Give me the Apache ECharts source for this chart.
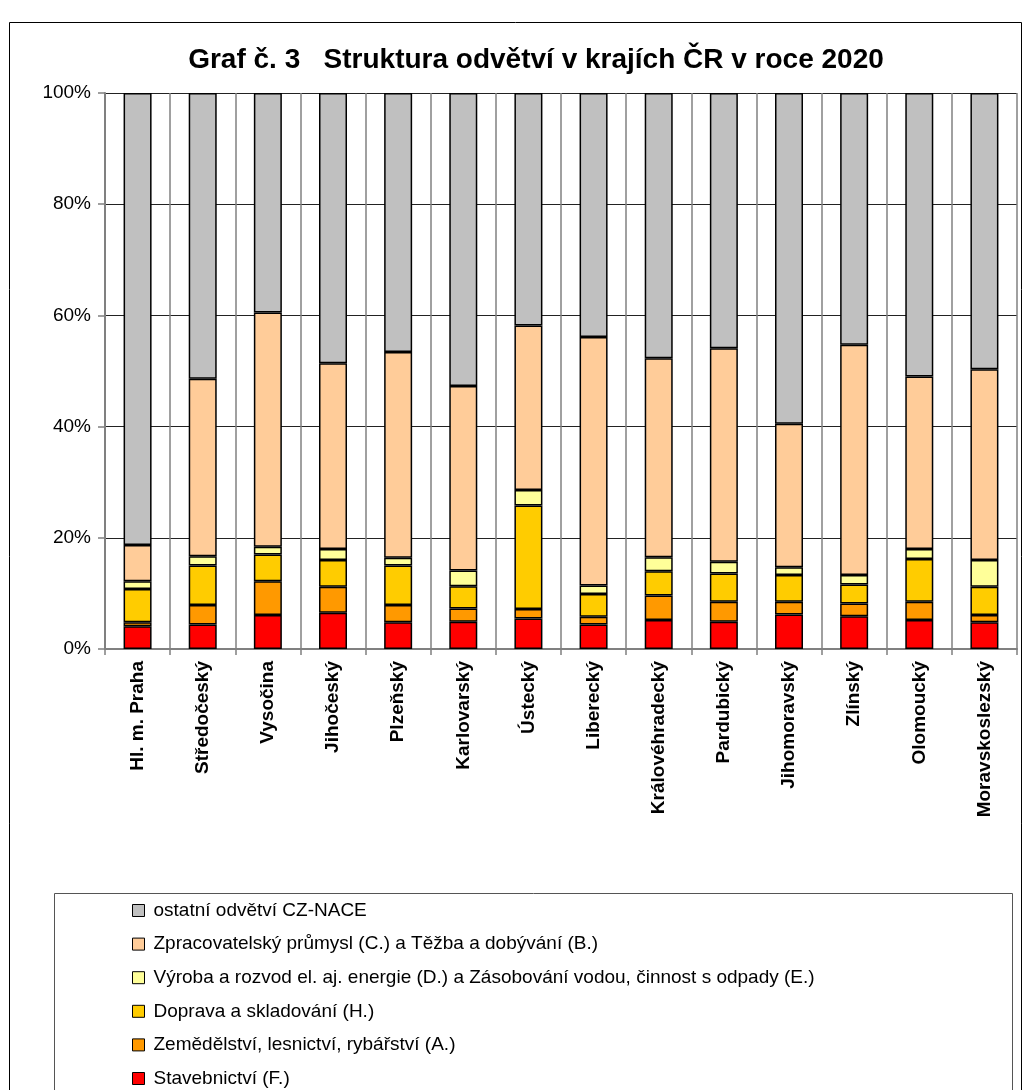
<!DOCTYPE html>
<html>
<head>
<meta charset="utf-8">
<script src="https://cdn.jsdelivr.net/npm/echarts@6/dist/echarts.min.js"></script>
<style>
  html, body { margin: 0; padding: 0; background: #fff; }
  #chart { width: 1028px; height: 1090px; }
</style>
</head>
<body>
<div id="chart"></div>
<script>
// kraje
const categories = [
  "Hl. m. Praha", "Středočeský", "Vysočina", "Jihočeský", "Plzeňský",
  "Karlovarský", "Ústecký", "Liberecký", "Královéhradecký", "Pardubický",
  "Jihomoravský", "Zlínský", "Olomoucký", "Moravskoslezský",
];

// podíly odvětví v %
const stavebnictvi = [4.1, 4.4, 6.1, 6.5, 4.8, 4.9, 5.5, 4.4, 5.2, 4.9, 6.2, 5.9, 5.2, 4.8];
const zemedelstvi = [0.7, 3.5, 6.1, 4.7, 3.1, 2.4, 1.7, 1.4, 4.4, 3.6, 2.3, 2.3, 3.3, 1.3];
const doprava = [6.0, 7.1, 4.8, 4.8, 7.1, 4.0, 18.6, 4.1, 4.4, 5.1, 4.8, 3.4, 7.7, 5.1];
const energie = [1.4, 1.7, 1.4, 2.0, 1.4, 2.8, 2.8, 1.5, 2.5, 2.1, 1.4, 1.7, 1.8, 4.8];
const zpracovatelsky = [6.5, 31.9, 42.1, 33.4, 37.0, 33.2, 29.6, 44.7, 35.8, 38.4, 25.8, 41.4, 31.0, 34.3];
const ostatni = [81.3, 51.4, 39.5, 48.6, 46.6, 52.7, 41.8, 43.9, 47.7, 45.9, 59.5, 45.3, 51.0, 49.7];

const yTicks = [0, 20, 40, 60, 80, 100];

const font = "Liberation Sans, Arial, sans-serif";

const seriesDefs = [
  { name: "Stavebnictví (F.)", data: stavebnictvi, color: "#FF0000" },
  { name: "Zemědělství, lesnictví, rybářství (A.)", data: zemedelstvi, color: "#FF9900" },
  { name: "Doprava a skladování (H.)", data: doprava, color: "#FFCC00" },
  { name: "Výroba a rozvod el. aj. energie (D.) a Zásobování vodou, činnost s odpady (E.)", data: energie, color: "#FFFF99" },
  { name: "Zpracovatelský průmysl (C.) a Těžba a dobývání (B.)", data: zpracovatelsky, color: "#FFCC99" },
  { name: "ostatní odvětví CZ-NACE", data: ostatni, color: "#C0C0C0" },
];

const chart = echarts.init(document.getElementById("chart"));

const option = {
  animation: false,
  backgroundColor: "#fff",
  title: {
    text: "Graf č. 3   Struktura odvětví v krajích ČR v roce 2020",
    left: 531,
    top: 41,
    textAlign: "center",
    textStyle: {
      fontFamily: font,
      fontSize: 28,
      fontWeight: "bold",
      color: "#000",
    },
  },
  graphic: [
    {
      type: "rect",
      shape: { x: 9.5, y: 22.5, width: 1012, height: 1100 },
      style: { fill: "none", stroke: "#000", lineWidth: 1 },
      silent: true,
    },
    {
      type: "rect",
      shape: { x: 54.5, y: 893.5, width: 958, height: 260 },
      style: { fill: "none", stroke: "#555", lineWidth: 1 },
      silent: true,
    },
  ],
  legend: {
    orient: "vertical",
    left: 132,
    top: 901,
    height: 220,
    padding: 0,
    itemWidth: 12,
    itemHeight: 12,
    itemGap: 14.6,
    icon: "rect",
    data: seriesDefs.map((s) => s.name).reverse(),
    itemStyle: { borderColor: "#000", borderWidth: 1 },
    textStyle: {
      fontFamily: font,
      fontSize: 19,
      lineHeight: 19,
      color: "#000",
      padding: [0, 0, 0, 4],
    },
  },
  grid: {
    left: 105,
    right: 11,
    top: 93,
    bottom: 441,
  },
  xAxis: {
    type: "category",
    data: categories,
    axisLine: { lineStyle: { color: "#808080", width: 2 } },
    axisTick: { show: true, length: 6, lineStyle: { color: "#808080", width: 1.5 } },
    splitLine: { show: true, lineStyle: { color: "#808080", width: 1.5 } },
    axisLabel: {
      rotate: 90,
      margin: 12,
      interval: 0,
      fontFamily: font,
      fontSize: 19,
      fontWeight: "bold",
      color: "#000",
    },
  },
  yAxis: {
    type: "value",
    min: yTicks[0],
    max: yTicks[yTicks.length - 1],
    interval: 20,
    axisLine: { show: true, lineStyle: { color: "#808080", width: 2 } },
    axisTick: { show: true, length: 7, lineStyle: { color: "#808080", width: 1.5 } },
    splitLine: { show: true, lineStyle: { color: "#222", width: 1 } },
    axisLabel: {
      formatter: "{value}%",
      margin: 14,
      fontFamily: font,
      fontSize: 19,
      color: "#000",
    },
  },
  series: seriesDefs.map((s) => ({
    name: s.name,
    type: "bar",
    stack: "total",
    data: s.data,
    barWidth: 28,
    itemStyle: {
      color: s.color,
      borderColor: "#000",
      borderWidth: 1.5,
    },
  })),
};

chart.setOption(option);
</script>
</body>
</html>
